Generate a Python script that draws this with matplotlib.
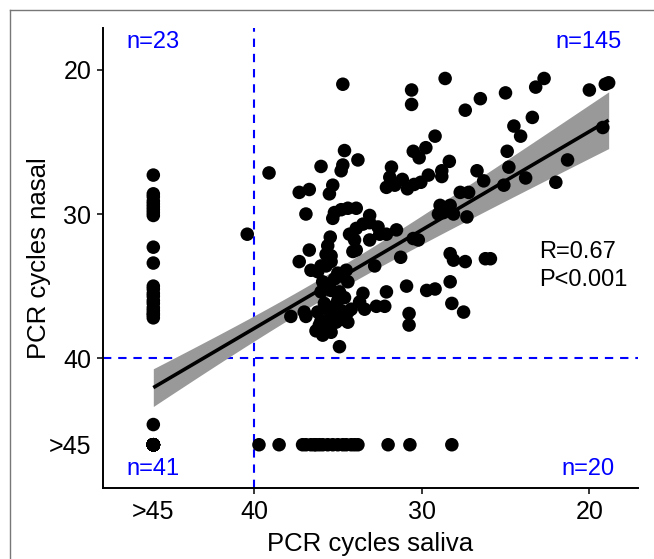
import numpy as np
import matplotlib
matplotlib.use("Agg")
import matplotlib.pyplot as plt
from matplotlib.lines import Line2D

plt.rcParams['font.family'] = ['Liberation Sans', 'DejaVu Sans']

# ---------------- data (">45" coded as 46) ----------------
NEG = 46
# top-right quadrant: saliva positive, nasal positive
pos_saliva = [34.7, 30.6, 30.6, 28.6, 27.4, 26.5, 25.0, 23.2, 22.7, 20.0, 19.05, 18.85, 19.2,
              23.4, 24.5, 24.1, 29.2, 30.5, 30.15, 29.75, 24.9, 34.6,
              39.1, 36.0, 34.7, 34.8, 33.8, 37.3, 36.7, 35.3, 35.5, 31.8, 31.9, 31.15, 32.1,
              31.6, 30.85, 30.45, 30.05, 29.6, 28.8, 28.8, 28.35, 26.7, 26.3, 24.8, 25.1, 23.8,
              21.3, 22.0, 27.7, 27.2, 28.9, 28.3, 28.7, 28.1, 29.0, 27.3,
              36.9, 35.2, 34.8, 34.4, 33.9, 33.1, 35.3,
              33.5, 32.6, 33.9, 33.1, 34.0, 32.1, 31.5, 34.3, 33.1, 32.5, 30.5, 30.2, 31.25,
              35.45, 35.6, 35.7, 35.4, 36.7, 37.3, 33.9, 34.1, 35.4, 36.0, 36.6, 36.2, 35.7, 32.8,
              28.3, 28.1, 27.4, 26.2, 25.9, 28.3, 30.9, 32.1, 32.7, 32.2, 29.7, 29.2, 28.2, 27.5,
              30.75, 30.75,
              35.0, 34.4, 35.9, 35.4, 34.9, 36.0, 34.8, 35.2, 33.5, 33.7, 33.4,
              37.8, 37.0, 36.9, 36.2, 35.6, 35.2, 34.8, 34.4, 34.2, 36.0, 35.4, 34.8, 34.4,
              36.3, 35.9, 35.4, 35.1, 36.1, 35.7, 34.9, 35.0, 34.6, 35.8, 34.5, 35.5]
pos_nasal = [21.0, 21.4, 22.4, 20.6, 22.8, 22.0, 21.6, 21.2, 20.6, 21.4, 21.0, 20.9, 24.0,
             23.3, 23.9, 24.6, 24.6, 25.65, 26.1, 25.4, 25.65, 25.6,
             27.15, 26.7, 26.6, 27.0, 26.25, 28.5, 28.3, 28.0, 28.6, 26.75, 27.45, 27.6, 28.15,
             28.0, 28.25, 27.95, 27.8, 27.3, 27.0, 27.4, 26.35, 27.0, 27.7, 26.75, 28.0, 27.5,
             26.25, 27.8, 28.5, 28.5, 29.4, 29.4, 29.9, 30.0, 30.0, 30.2,
             30.0, 29.9, 29.7, 29.6, 29.6, 30.1, 30.3,
             30.7, 30.9, 31.0, 31.8, 31.8, 31.4, 31.1, 31.4, 30.6, 31.4, 31.7, 31.8, 33.0,
             31.6, 32.2, 32.8, 32.9, 32.5, 33.3, 32.5, 32.6, 33.3, 33.6, 33.9, 34.0, 33.6, 33.6,
             32.75, 33.2, 33.3, 33.1, 33.1, 34.7, 35.0, 35.4, 36.4, 36.4, 35.3, 35.2, 36.2, 36.8,
             36.9, 37.7,
             34.1, 34.7, 34.7, 35.3, 35.4, 35.4, 34.3, 34.5, 35.5, 36.1, 36.6,
             37.1, 36.8, 37.1, 36.8, 36.6, 36.4, 36.7, 36.8, 36.6, 37.4, 37.1, 37.3, 37.5,
             38.1, 38.4, 38.2, 37.5, 37.7, 37.8, 39.2, 36.0, 35.8, 36.2, 33.9, 34.9]
# top-left quadrant: saliva negative, nasal positive (n=23)
tl_saliva = [40.4] + [NEG] * 22
tl_nasal = [31.4, 27.3, 28.6, 28.8, 29.1, 29.3, 29.5, 29.7, 29.9, 30.1, 32.3, 33.4,
            35.0, 35.2, 35.5, 35.7, 36.0, 36.2, 36.5, 36.7, 36.9, 37.0, 37.2]
# bottom-right quadrant: saliva positive, nasal negative (n=20)
br_saliva = [39.7, 38.5, 37.1, 36.9, 36.6, 36.4, 36.3, 36.1, 35.9, 35.6, 35.3, 35.0,
             34.7, 34.5, 34.2, 34.0, 33.8, 32.0, 30.7, 28.2]
br_nasal = [NEG] * 20
# bottom-left quadrant: both negative (n=41)
bl_saliva = [NEG] * 41
bl_nasal = [44.6] + [NEG] * 40

tick_vals = [NEG, 40, 30, 20]
tick_labels = ['>45', '40', '30', '20']
quadrant_labels = ['n=23', 'n=145', 'n=41', 'n=20']
stats_text = 'R=0.67\nP<0.001'

# ---------------- figure ----------------
W, H = 654, 559
fig = plt.figure(figsize=(W / 100, H / 100), dpi=100)
ax = fig.add_axes([103 / W, 1 - 488 / H, (638 - 103) / W, (488 - 28) / H])

x = np.array(pos_saliva + tl_saliva + br_saliva + bl_saliva, dtype=float)
y = np.array(pos_nasal + tl_nasal + br_nasal + bl_nasal, dtype=float)

# linear fit with 95% confidence band
n = len(x)
b, a = np.polyfit(x, y, 1)
xs = np.linspace(x.min(), x.max(), 200)
ys = a + b * xs
resid = y - (a + b * x)
s = np.sqrt(np.sum(resid ** 2) / (n - 2))
sxx = np.sum((x - x.mean()) ** 2)
se = s * np.sqrt(1 / n + (xs - x.mean()) ** 2 / sxx)
tval = 1.97
ax.fill_between(xs, ys - tval * se, ys + tval * se, color='#999999', lw=0, zorder=2)

ax.scatter(x, y, s=95, color='black', edgecolors='none', zorder=3)
ax.plot(xs, ys, color='black', lw=2.6, zorder=4, solid_capstyle='butt')

for ln in (ax.axvline(40, color='#0000FF', lw=1.5, zorder=1),
           ax.axhline(40, color='#0000FF', lw=1.5, zorder=1)):
    ln.set_dashes((4, 3.3))

ax.set_xlim(49.0, 17.1)
ax.set_ylim(49.0, 17.1)

ax.set_xticks(tick_vals)
ax.set_xticklabels(tick_labels)
ax.set_yticks(tick_vals)
ax.set_yticklabels(tick_labels)
ax.xaxis.get_major_ticks()[0].tick1line.set_visible(False)
ax.yaxis.get_major_ticks()[0].tick1line.set_visible(False)
ax.tick_params(axis='both', labelsize=18, length=4.5, width=1.1, color='black', pad=4)

for sp in ['top', 'right']:
    ax.spines[sp].set_visible(False)
for sp in ['left', 'bottom']:
    ax.spines[sp].set_linewidth(1.4)

ax.set_xlabel('PCR cycles saliva', fontsize=18.5, labelpad=6)
ax.set_ylabel('PCR cycles nasal', fontsize=18.5, labelpad=-1.5)

ax.text(126 / W, 1 - 42 / H, quadrant_labels[0], transform=fig.transFigure, color='#0000FF',
        fontsize=17, ha='left', va='center')
ax.text(622 / W, 1 - 42 / H, quadrant_labels[1], transform=fig.transFigure, color='#0000FF',
        fontsize=17, ha='right', va='center')
ax.text(126 / W, 1 - 469 / H, quadrant_labels[2], transform=fig.transFigure, color='#0000FF',
        fontsize=17, ha='left', va='center')
ax.text(615 / W, 1 - 469 / H, quadrant_labels[3], transform=fig.transFigure, color='#0000FF',
        fontsize=17, ha='right', va='center')
ax.text(539 / W, 1 - 266 / H, stats_text, transform=fig.transFigure, color='black',
        fontsize=17, ha='left', va='center', linespacing=1.4)

# light frame around the figure
fig.add_artist(Line2D([10 / W, 10 / W], [0, 1 - 10 / H], transform=fig.transFigure,
                      color='#777777', lw=1.0))
fig.add_artist(Line2D([10 / W, 1], [1 - 10 / H, 1 - 10 / H], transform=fig.transFigure,
                      color='#777777', lw=1.0))

fig.savefig('out.png', dpi=100)
